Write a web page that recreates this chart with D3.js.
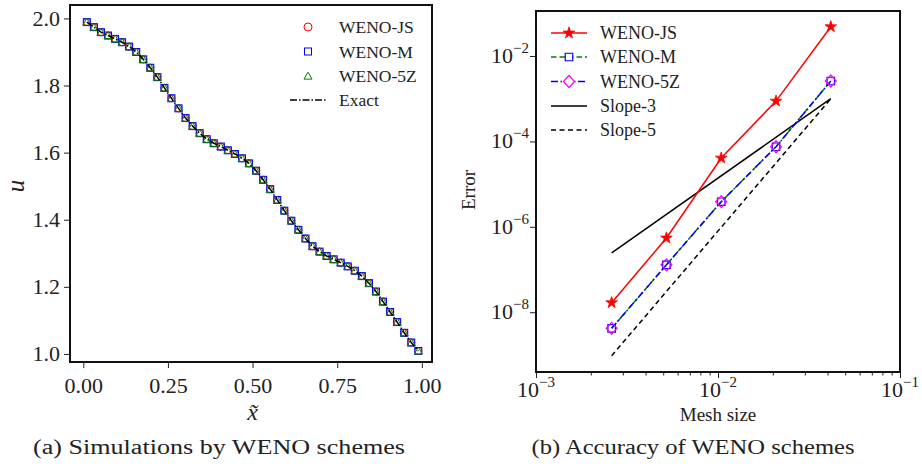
<!DOCTYPE html>
<html><head><meta charset="utf-8">
<script src="https://cdn.jsdelivr.net/npm/d3@7"></script>
<style>
html,body{margin:0;padding:0;background:#fff;}
svg{display:block;}
</style></head>
<body><svg id="c" width="922" height="468" font-family="Liberation Serif"></svg>
<script>
// ---------- data: panel (a) ----------
const xTilde = [0.0104,0.0313,0.0521,0.0729,0.0938,0.1146,0.1354,0.1563,0.1771,0.1979,0.2188,0.2396,0.2604,0.2813,0.3021,0.3229,0.3438,0.3646,0.3854,0.4063,0.4271,0.4479,0.4688,0.4896,0.5104,0.5313,0.5521,0.5729,0.5938,0.6146,0.6354,0.6563,0.6771,0.6979,0.7188,0.7396,0.7604,0.7813,0.8021,0.8229,0.8438,0.8646,0.8854,0.9063,0.9271,0.9479,0.9688,0.9896];
const uWenoJS = [1.989,1.974,1.959,1.949,1.939,1.929,1.916,1.900,1.878,1.853,1.825,1.793,1.762,1.732,1.703,1.679,1.658,1.640,1.628,1.618,1.607,1.596,1.583,1.568,1.546,1.519,1.491,1.459,1.427,1.397,1.370,1.344,1.321,1.305,1.292,1.282,1.272,1.261,1.248,1.232,1.211,1.186,1.156,1.125,1.095,1.063,1.034,1.009];
const uWenoM  = [1.989,1.974,1.959,1.949,1.939,1.929,1.916,1.900,1.878,1.853,1.825,1.793,1.762,1.732,1.703,1.679,1.658,1.640,1.628,1.618,1.607,1.596,1.583,1.568,1.546,1.519,1.491,1.459,1.427,1.397,1.370,1.344,1.321,1.305,1.292,1.282,1.272,1.261,1.248,1.232,1.211,1.186,1.156,1.125,1.095,1.063,1.034,1.009];
const uWeno5Z = [1.989,1.974,1.959,1.949,1.939,1.929,1.916,1.900,1.878,1.853,1.825,1.793,1.762,1.732,1.703,1.679,1.658,1.640,1.628,1.618,1.607,1.596,1.583,1.568,1.546,1.519,1.491,1.459,1.427,1.397,1.370,1.344,1.321,1.305,1.292,1.282,1.272,1.261,1.248,1.232,1.211,1.186,1.156,1.125,1.095,1.063,1.034,1.009];
const uExact  = [1.989,1.974,1.959,1.949,1.939,1.929,1.916,1.900,1.878,1.853,1.825,1.793,1.762,1.732,1.703,1.679,1.658,1.640,1.628,1.618,1.607,1.596,1.583,1.568,1.546,1.519,1.491,1.459,1.427,1.397,1.370,1.344,1.321,1.305,1.292,1.282,1.272,1.261,1.248,1.232,1.211,1.186,1.156,1.125,1.095,1.063,1.034,1.009];
const xTicksA = [0, 0.25, 0.5, 0.75, 1.0];
const yTicksA = [1.0, 1.2, 1.4, 1.6, 1.8, 2.0];
const seriesA = ["WENO-JS","WENO-M","WENO-5Z","Exact"];

// ---------- data: panel (b) ----------
const meshSize = [0.0026042, 0.0052083, 0.0104167, 0.0208333, 0.0416667];
const errJS = [1.67e-8, 5.47e-7, 4.08e-5, 8.8e-4, 4.85e-2];
const errM  = [4.2e-9, 1.29e-7, 3.87e-6, 7.5e-5, 2.6e-3];
const err5Z = [4.2e-9, 1.29e-7, 3.87e-6, 7.5e-5, 2.6e-3];
const slopeMesh = [0.0026042, 0.0416667];
const slope3 = [2.44e-7, 1.0e-3];
const slope5 = [9.54e-10, 1.0e-3];
const xTicksB = [1e-3, 1e-2, 1e-1];
const yTicksB = [1e-8, 1e-6, 1e-4, 1e-2];
const seriesB = ["WENO-JS","WENO-M","WENO-5Z","Slope-3","Slope-5"];

const FONT = "Liberation Serif";
const TXT = "#222";
const svg = d3.select("#c");
const F = 22;
const txt = (g, x, y, s, size, anchor) => g.append("text").attr("x",x).attr("y",y)
  .attr("font-family",FONT).attr("font-size",size).attr("fill",TXT)
  .attr("text-anchor",anchor||"start").text(s);

// ================= panel (a) =================
const A = {l:70, r:432, t:5, b:362};
const xA = d3.scaleLinear().domain([-0.0393, 1.030]).range([A.l, A.r]);
const yA = d3.scaleLinear().domain([0.976, 2.040]).range([A.b, A.t]);
const gA = svg.append("g");

const axA = gA.append("g").attr("transform",`translate(0,${A.b})`)
  .call(d3.axisBottom(xA).tickValues(xTicksA).tickFormat(d3.format(".2f")).tickSize(6).tickPadding(4));
const ayA = gA.append("g").attr("transform",`translate(${A.l},0)`)
  .call(d3.axisLeft(yA).tickValues(yTicksA).tickFormat(d3.format(".1f")).tickSize(6).tickPadding(4));
[axA, ayA].forEach(g=>{
  g.attr("font-family",FONT).attr("font-size",F);
  g.select(".domain").remove();
  g.selectAll("line").attr("stroke","#222").attr("stroke-width",1);
  g.selectAll("text").attr("font-size",F).attr("fill",TXT).attr("font-family",FONT);
});
axA.selectAll("text").attr("dy","0.95em");

const pts = xTilde.map((x,i)=>({x, js:uWenoJS[i], m:uWenoM[i], z:uWeno5Z[i], e:uExact[i]}));
gA.append("g").selectAll("circle").data(pts).join("circle")
  .attr("cx",d=>xA(d.x)).attr("cy",d=>yA(d.js)).attr("r",3.5)
  .attr("fill","none").attr("stroke","#ff0000").attr("stroke-width",1);
gA.append("g").selectAll("rect").data(pts).join("rect")
  .attr("x",d=>xA(d.x)-3.5).attr("y",d=>yA(d.m)-3.5).attr("width",7).attr("height",7)
  .attr("fill","none").attr("stroke","#0000ff").attr("stroke-width",1);
const tri = d3.symbol().type(d3.symbolTriangle).size(28);
gA.append("g").selectAll("path").data(pts).join("path")
  .attr("d",tri).attr("transform",d=>`translate(${xA(d.x)},${yA(d.z)+0.8})`)
  .attr("fill","none").attr("stroke","#008000").attr("stroke-width",1);
gA.append("path").datum(pts)
  .attr("d",d3.line().x(d=>xA(d.x)).y(d=>yA(d.e)))
  .attr("fill","none").attr("stroke","#000").attr("stroke-width",1.5)
  .attr("stroke-dasharray","7,2,1.5,2");

gA.append("rect").attr("x",A.l).attr("y",A.t).attr("width",A.r-A.l).attr("height",A.b-A.t)
  .attr("fill","none").attr("stroke","#111").attr("stroke-width",2);

// legend (a)
const legA = gA.append("g");
const legAy = [27, 51.5, 76, 100];
seriesA.forEach((s,i)=>{
  const y = legAy[i], cx = 308;
  if(i===0) legA.append("circle").attr("cx",cx).attr("cy",y).attr("r",4).attr("fill","none").attr("stroke","#ff0000").attr("stroke-width",1);
  if(i===1) legA.append("rect").attr("x",cx-3.5).attr("y",y-3.5).attr("width",7).attr("height",7).attr("fill","none").attr("stroke","#0000ff").attr("stroke-width",1);
  if(i===2) legA.append("path").attr("d",tri).attr("transform",`translate(${cx},${y+0.8})`).attr("fill","none").attr("stroke","#008000").attr("stroke-width",1);
  if(i===3) legA.append("line").attr("x1",290).attr("x2",326).attr("y1",y).attr("y2",y).attr("stroke","#000").attr("stroke-width",1.5).attr("stroke-dasharray","7,2,1.5,2");
  txt(legA, 339, y+6, s, 17.5);
});

// labels (a)
txt(gA, xA(0.5), 420, "x̃", 24, "middle").attr("font-style","italic");
gA.append("text").attr("transform","translate(24,186) rotate(-90)").attr("text-anchor","middle")
  .attr("font-family",FONT).attr("font-size",25).attr("font-style","italic").attr("fill",TXT).text("u");
txt(gA, 219, 454, "(a) Simulations by WENO schemes", 20, "middle")
  .attr("textLength",372).attr("lengthAdjust","spacingAndGlyphs");

// ================= panel (b) =================
const B = {l:536, r:900, t:11, b:372};
const xB = d3.scaleLog().domain([1e-3, 1e-1]).range([B.l, B.r]);
const yB = d3.scaleLog().domain([Math.pow(10,-9.40), Math.pow(10,-0.946)]).range([B.b, B.t]);
const gB = svg.append("g");

const expo = v => Math.round(Math.log10(v));
const minorX = [];
[1e-3,1e-2].forEach(dec=>{ for(let k=2;k<=9;k++) minorX.push(dec*k); });
const axB = gB.append("g").attr("transform",`translate(0,${B.b})`)
  .call(d3.axisBottom(xB).tickValues(xTicksB).tickFormat("").tickSize(6));
gB.append("g").attr("transform",`translate(0,${B.b})`)
  .call(d3.axisBottom(xB).tickValues(minorX).tickFormat("").tickSize(3.5))
  .call(g=>{g.select(".domain").remove(); g.selectAll("line").attr("stroke","#222");});
axB.select(".domain").remove();
axB.selectAll("line").attr("stroke","#222");
const sup = (g, x, y, v, anchor) => {
  const t = txt(g, x, y, null, F, anchor);
  t.append("tspan").text("10");
  t.append("tspan").attr("dy",-10).attr("font-size",15).text("−"+Math.abs(expo(v)));
  return t;
};
xTicksB.forEach(v=> sup(gB, xB(v), 397, v, "middle"));
const ayB = gB.append("g").attr("transform",`translate(${B.l},0)`)
  .call(d3.axisLeft(yB).tickValues(yTicksB).tickFormat("").tickSize(6));
ayB.select(".domain").remove();
ayB.selectAll("line").attr("stroke","#222");
yTicksB.forEach(v=> sup(gB, 529, yB(v)+7, v, "end"));

const lineB = d3.line().x(d=>xB(d[0])).y(d=>yB(d[1]));
const zip = (a,b)=>a.map((v,i)=>[v,b[i]]);
const styles = {
  js:{stroke:"#ff0000", dash:null},
  m:{stroke:"#008000", dash:"5.5,3"},
  z:{stroke:"#0000ff", dash:"7,2.5,1.5,2.5"},
  s3:{stroke:"#000", dash:null},
  s5:{stroke:"#000", dash:"5,3.5"}
};
gB.append("path").attr("d",lineB(zip(slopeMesh,slope3))).attr("fill","none").attr("stroke","#000").attr("stroke-width",1.5);
gB.append("path").attr("d",lineB(zip(slopeMesh,slope5))).attr("fill","none").attr("stroke","#000").attr("stroke-width",1.5).attr("stroke-dasharray",styles.s5.dash);
gB.append("path").attr("d",lineB(zip(meshSize,errJS))).attr("fill","none").attr("stroke",styles.js.stroke).attr("stroke-width",1.5);
gB.append("path").attr("d",lineB(zip(meshSize,errM))).attr("fill","none").attr("stroke",styles.m.stroke).attr("stroke-width",1.5).attr("stroke-dasharray",styles.m.dash);
gB.append("path").attr("d",lineB(zip(meshSize,err5Z))).attr("fill","none").attr("stroke",styles.z.stroke).attr("stroke-width",1.5).attr("stroke-dasharray",styles.z.dash);

const star = d3.symbol().type(d3.symbolStar).size(42);
const sq = d3.symbol().type(d3.symbolSquare).size(56);
const diamond = "M0,-6L5.5,0L0,6L-5.5,0Z";
gB.append("g").selectAll("path").data(zip(meshSize,errJS)).join("path")
  .attr("d",star).attr("transform",d=>`translate(${xB(d[0])},${yB(d[1])})`).attr("fill","#ff0000").attr("stroke","#ff0000").attr("stroke-width",0.8);
gB.append("g").selectAll("path").data(zip(meshSize,errM)).join("path")
  .attr("d",sq).attr("transform",d=>`translate(${xB(d[0])},${yB(d[1])})`).attr("fill","none").attr("stroke","#0000ff").attr("stroke-width",1.2);
gB.append("g").selectAll("path").data(zip(meshSize,err5Z)).join("path")
  .attr("d",diamond).attr("transform",d=>`translate(${xB(d[0])},${yB(d[1])})`).attr("fill","none").attr("stroke","#ff00ff").attr("stroke-width",1.2);

gB.append("rect").attr("x",B.l).attr("y",B.t).attr("width",B.r-B.l).attr("height",B.b-B.t)
  .attr("fill","none").attr("stroke","#111").attr("stroke-width",2);

// legend (b)
const legBy = [33, 57, 81.5, 106, 130];
const legKeys = ["js","m","z","s3","s5"];
seriesB.forEach((s,i)=>{
  const y = legBy[i], st = styles[legKeys[i]];
  const ln = gB.append("line").attr("x1",551).attr("x2",587).attr("y1",y).attr("y2",y).attr("stroke",st.stroke).attr("stroke-width",1.5);
  if(st.dash) ln.attr("stroke-dasharray",st.dash);
  if(i===0) gB.append("path").attr("d",star).attr("transform",`translate(569,${y})`).attr("fill","#ff0000").attr("stroke","#ff0000").attr("stroke-width",0.8);
  if(i===1) gB.append("path").attr("d",sq).attr("transform",`translate(569,${y})`).attr("fill","#fff").attr("stroke","#0000ff").attr("stroke-width",1.2);
  if(i===2) gB.append("path").attr("d",diamond).attr("transform",`translate(569,${y})`).attr("fill","#fff").attr("stroke","#ff00ff").attr("stroke-width",1.2);
  txt(gB, 600, y+6, s, 18);
});

// labels (b)
txt(gB, 718, 421, "Mesh size", 19, "middle");
gB.append("text").attr("transform","translate(475,190) rotate(-90)").attr("text-anchor","middle")
  .attr("font-family",FONT).attr("font-size",19).attr("fill",TXT).text("Error");
txt(gB, 693, 454, "(b) Accuracy of WENO schemes", 20, "middle")
  .attr("textLength",323).attr("lengthAdjust","spacingAndGlyphs");
</script></body></html>
